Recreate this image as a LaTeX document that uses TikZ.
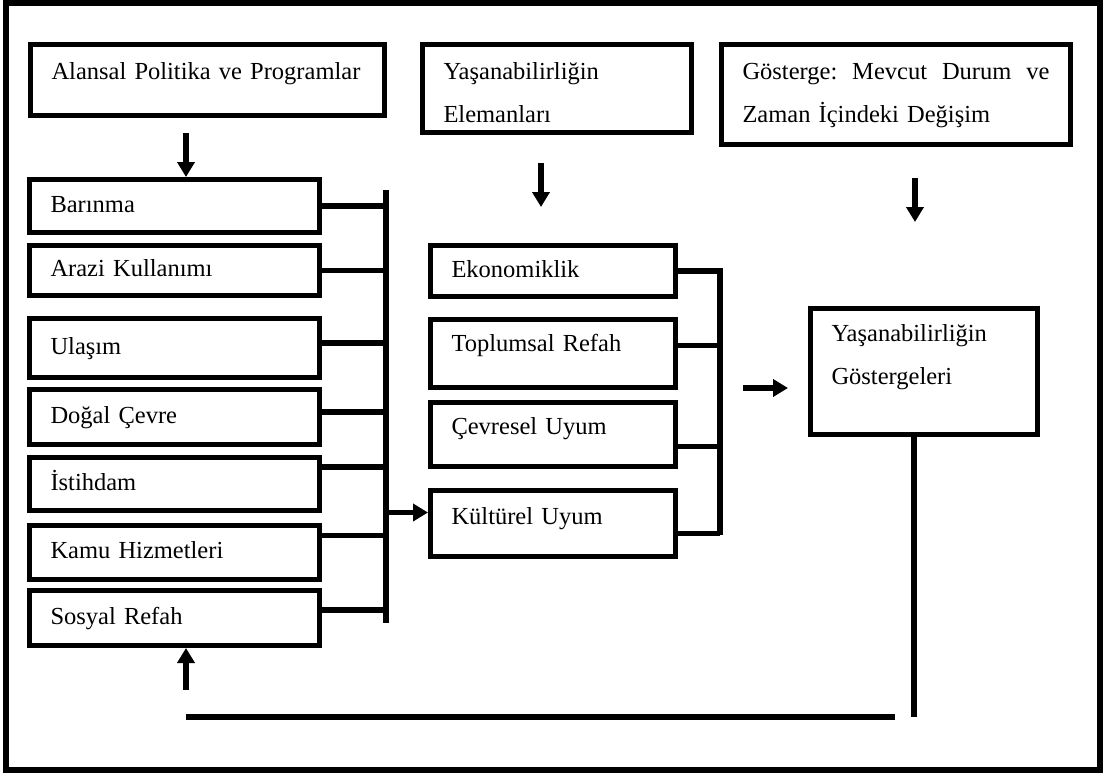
\documentclass[tikz,border=0pt]{standalone}
\usepackage{fontspec}
\setmainfont{Liberation Serif}
\usetikzlibrary{arrows.meta}

\begin{document}
\begin{tikzpicture}[x=1pt,y=-1pt,
    kutu/.style={draw, line width=5pt, outer sep=2.5pt, anchor=north west, inner xsep=21pt, inner ysep=0pt, align=left, font=\fontsize{24.5pt}{43pt}\selectfont},
    tek/.style={text height=17pt, text depth=5pt},
    ok/.style={line width=5.5pt, -{Triangle[length=15pt,width=17pt]}},
    hat/.style={line width=5.5pt}]
    \useasboundingbox (0,0) rectangle (1112,774);
    \draw[line width=5.5pt] (6,3) rectangle (1100,770);

    \node[kutu, tek, text depth=19pt, minimum width=354pt, minimum height=71pt, text width=312pt] (alansal) at (28,42) {Alansal Politika ve Programlar};
    \node[kutu, text height=17pt, text depth=36pt, minimum width=269pt, minimum height=88pt, text width=227pt] (elemanlar) at (420,42) {Yaşanabilirliğin\\Elemanları};
    \node[kutu, text height=17pt, text depth=48pt, minimum width=349pt, minimum height=100pt, text width=307pt] (gosterge) at (719,42) {Gösterge:\hfill Mevcut\hfill Durum\hfill ve\\Zaman İçindeki Değişim};

    \node[kutu, tek, minimum width=290pt, minimum height=53pt, text width=248pt] (barinma) at (27,177) {Barınma};
    \node[kutu, tek, minimum width=290pt, minimum height=50pt, text width=248pt] (arazi) at (27,243) {Arazi Kullanımı};
    \node[kutu, tek, minimum width=290pt, minimum height=59pt, text width=248pt] (ulasim) at (27,316) {Ulaşım};
    \node[kutu, tek, minimum width=290pt, minimum height=55pt, text width=248pt] (dogal) at (27,387) {Doğal Çevre};
    \node[kutu, tek, minimum width=290pt, minimum height=53pt, text width=248pt] (istihdam) at (27,455) {İstihdam};
    \node[kutu, tek, minimum width=290pt, minimum height=54pt, text width=248pt] (kamu) at (27,523) {Kamu Hizmetleri};
    \node[kutu, tek, minimum width=290pt, minimum height=55pt, text width=248pt] (sosyal) at (27,588) {Sosyal Refah};

    \node[kutu, tek, minimum width=245pt, minimum height=51pt, text width=203pt] (ekonomik) at (428,243) {Ekonomiklik};
    \node[kutu, tek, text depth=21pt, minimum width=245pt, minimum height=68pt, text width=203pt] (toplumsal) at (428,317) {Toplumsal Refah};
    \node[kutu, tek, text depth=18pt, minimum width=245pt, minimum height=64pt, text width=203pt] (cevresel) at (428,400) {Çevresel Uyum};
    \node[kutu, tek, text depth=16pt, minimum width=245pt, minimum height=66pt, text width=203pt] (kulturel) at (428,488) {Kültürel Uyum};

    \node[kutu, text height=17pt, text depth=78pt, minimum width=227pt, minimum height=126pt, text width=185pt] (gostergeler) at (808,306) {Yaşanabilirliğin\\Göstergeleri};

    \coordinate (bus1a) at (386,190);
    \coordinate (bus1b) at (386,623);
    \coordinate (bus2a) at (720,268);
    \coordinate (bus2b) at (720,535);
    \coordinate (o1) at (186,133);
    \coordinate (o2a) at (541,163);
    \coordinate (o2b) at (541,207);
    \coordinate (o3a) at (915,178);
    \coordinate (o3b) at (915,222);
    \coordinate (o4a) at (743,388);
    \coordinate (o4b) at (788,388);
    \coordinate (geri1) at (914,717);
    \coordinate (geri2) at (895,717);
    \coordinate (geri3) at (186,717);
    \coordinate (geri4) at (186,690);

    % down arrows
    \draw[ok] (o1) -- (o1 |- barinma.north);
    \draw[ok] (o2a) -- (o2b);
    \draw[ok] (o3a) -- (o3b);

    % left bus
    \draw[hat] (bus1a) -- (bus1b);
    \draw[hat] (barinma.east) -- (barinma.east -| bus1a);
    \draw[hat] (arazi.east) -- (arazi.east -| bus1a);
    \draw[hat] ([yshift=5pt]ulasim.east) -- ([yshift=5pt]ulasim.east -| bus1a);
    \draw[hat] ([yshift=5pt]dogal.east) -- ([yshift=5pt]dogal.east -| bus1a);
    \draw[hat] ([yshift=17pt]istihdam.east) -- ([yshift=17pt]istihdam.east -| bus1a);
    \draw[hat] ([yshift=17pt]kamu.east) -- ([yshift=17pt]kamu.east -| bus1a);
    \draw[hat] ([yshift=8pt]sosyal.east) -- ([yshift=8pt]sosyal.east -| bus1a);
    \draw[ok] ([yshift=11pt]kulturel.west -| bus1a) -- ([yshift=11pt]kulturel.west);

    % middle bus
    \draw[hat] (bus2a) -- (bus2b);
    \draw[hat] (ekonomik.east) -- (ekonomik.east -| bus2a);
    \draw[hat] ([yshift=8pt]toplumsal.east) -- ([yshift=8pt]toplumsal.east -| bus2a);
    \draw[hat] ([yshift=-12pt]cevresel.east) -- ([yshift=-12pt]cevresel.east -| bus2a);
    \draw[hat] ([yshift=-10pt]kulturel.east) -- ([yshift=-10pt]kulturel.east -| bus2a);
    \draw[ok] (o4a) -- (o4b);

    % feedback
    \draw[hat] (gostergeler.south -| geri1) -- (geri1);
    \draw[hat] (geri2) -- (geri3);
    \draw[ok] (geri4) -- (geri4 |- sosyal.south);
\end{tikzpicture}
\end{document}
